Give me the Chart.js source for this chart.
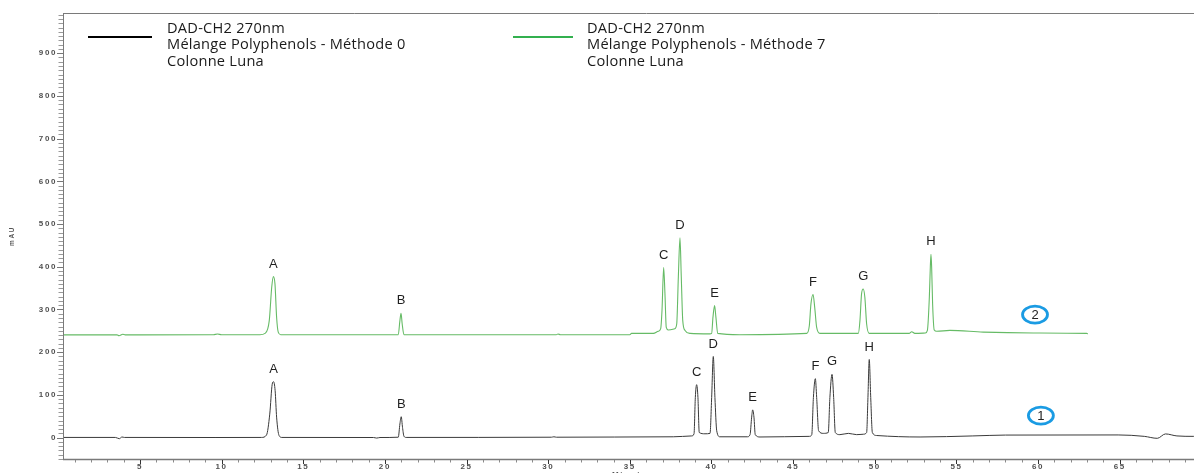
<!DOCTYPE html>
<html>
<head>
<meta charset="utf-8">
<title>DAD-CH2 270nm – Mélange Polyphenols</title>
<script src="https://cdn.jsdelivr.net/npm/chart.js@4/dist/chart.umd.min.js"></script>
<style>
  html, body { margin: 0; padding: 0; background: #fff; overflow: hidden; }
  #wrap { position: relative; width: 1194px; height: 473px; overflow: hidden; }
  #c { position: absolute; left: 0; top: 0; }
  .leg { position: absolute; font-family: "Open Sans", sans-serif; font-size: 14.6px;
         letter-spacing: 0.25px; line-height: 16.5px; color: #1a1a1a; white-space: nowrap; }
  .sw { position: absolute; height: 2px; }
</style>
</head>
<body>
<div id="wrap">
  <canvas id="c" width="1230" height="490"></canvas>
</div>
<script>
// ---- Chromatogram 1 : Méthode 0 (time in min, signal in mAU) ----
const times1 = [
  0.29, 3.5, 3.74, 3.9, 4.05, 9.6, 12.45,
  12.75, 12.95, 13.1, 13.18, 13.28, 13.37, 13.52, 13.7,
  19.3, 19.5, 19.7, 20.82,
  20.92, 21.0, 21.08, 21.17, 21.3,
  30.2, 30.35, 30.5, 37.66, 38.79,
  38.93, 39.01, 39.09, 39.17, 39.25, 39.6, 39.91,
  40.01, 40.11, 40.21, 40.32, 40.52,
  42.2, 42.36, 42.46, 42.52, 42.6, 42.68, 42.97,
  46.0, 46.14, 46.24, 46.36, 46.44, 46.56, 46.85, 47.15,
  47.25, 47.38, 47.48, 47.58, 47.86, 48.38, 48.89, 49.3,
  49.5, 49.58, 49.66, 49.75, 49.85, 50.11, 52.77,
  56.0, 58.0, 64.9, 66.5, 67.3, 67.8, 68.5, 69.5, 71.75
];
const signal1 = [
  0.5, 0.5, -2.5, 1.5, 0.5, 0.3, 0.5,
  6, 55, 125, 131, 110, 48, 5, 0.5,
  0.3, -1, 0.3, 1,
  32, 49, 24, 3, 0.5,
  1, 2, 1, 2, 4,
  9, 94, 124, 94, 12, 9, 10,
  94, 190, 94, 16, 2,
  2, 7, 48, 65, 48, 7, 1.5,
  3, 7, 94, 138, 94, 16, 10, 12,
  94, 148, 94, 12, 7, 10, 7, 8,
  12, 94, 183, 94, 12, 5, 1.5,
  4, 6, 6.3, 3, -1.6, 8.7, 4, 3, 3
];

// ---- Chromatogram 2 : Méthode 7 ----
const times2 = [
  0.29, 3.6, 3.72, 3.95, 4.1, 9.5, 9.75, 10.0, 12.35,
  12.66, 12.92, 13.07, 13.17, 13.27, 13.37, 13.47, 13.62,
  20.82, 20.92, 20.99, 21.06, 21.17,
  30.5, 30.6, 30.75, 35.0, 35.1, 36.44, 36.74,
  36.89, 36.97, 37.07, 37.15, 37.23, 37.35, 37.75,
  37.87, 37.97, 38.07, 38.15, 38.24, 38.38, 38.69,
  39.9, 40.01, 40.09, 40.19, 40.27, 40.38, 41.74,
  45.83, 45.99, 46.09, 46.22, 46.32, 46.44, 46.64,
  48.99, 49.09, 49.19, 49.29, 49.39, 49.5, 49.66,
  52.1, 52.26, 52.45, 53.1,
  53.22, 53.34, 53.4, 53.44, 53.48, 53.54, 53.64, 53.79,
  54.6, 56.64, 59.7, 62.97, 63.05
];
const signal2 = [
  240.5, 240.5, 238.5, 242, 240.5, 241, 242.5, 241, 241,
  244, 274, 352, 377, 360, 282, 247, 241,
  241, 274, 291, 266, 241,
  241, 242.5, 241, 241, 244, 244, 249,
  255, 298, 398, 337, 258, 252, 255,
  266, 376, 468, 376, 274, 251, 244,
  243, 244, 282, 309, 282, 244, 241,
  244, 262, 313, 335, 305, 258, 244,
  244, 274, 337, 348, 329, 266, 244,
  244, 248, 244, 245,
  251, 329, 400, 429, 400, 313, 252, 249,
  251, 247, 245, 244, 243
];

// ---- Peak identification (retention times of the apexes) ----
const peakNames = ['A', 'B', 'C', 'D', 'E', 'F', 'G', 'H'];
const apexTimes1 = [13.18, 21.0, 39.09, 40.11, 42.52, 46.36, 47.38, 49.66];
const apexTimes2 = [13.17, 20.99, 37.07, 38.07, 40.19, 46.22, 49.29, 53.44];

// ---- Axis ticks ----
const xMajorTicks = [5, 10, 15, 20, 25, 30, 35, 40, 45, 50, 55, 60, 65, 70];
const yMajorTicks = [0, 100, 200, 300, 400, 500, 600, 700, 800, 900];
const xMinorTicks = Array.from({ length: 71 }, (_, i) => i + 1);        // every minute
const yMinorTicks = Array.from({ length: 105 }, (_, i) => -50 + i * 10); // every 10 mAU

// ---- Legend text ----
const legend0 = ['DAD-CH2 270nm', 'Mélange Polyphenols - Méthode 0', 'Colonne Luna'];
const legend7 = ['DAD-CH2 270nm', 'Mélange Polyphenols - Méthode 7', 'Colonne Luna'];

const toPoints = (t, s) => t.map((x, i) => ({ x: x, y: s[i] }));

const TICK_FONT = { family: 'Liberation Sans, Arial, sans-serif', size: 8, weight: 'bold' };
const AXIS_GRAY = '#7a7a7a';

// Spaced-out digits for the axis labels
const letterSpacingPlugin = {
  id: 'tickSpacing',
  beforeDraw(chart) { chart.ctx.letterSpacing = '1.6px'; },
  beforeDatasetsDraw(chart) { chart.ctx.letterSpacing = '0px'; }
};

// Axis lines, frame top edge and minor/major tick marks
const axisPlugin = {
  id: 'axisMarks',
  afterDraw(chart) {
    const { ctx, chartArea: a, scales: { x, y } } = chart;
    ctx.save();
    ctx.lineWidth = 1;
    ctx.strokeStyle = AXIS_GRAY;
    ctx.beginPath();
    ctx.moveTo(a.left + 0.5, a.top); ctx.lineTo(a.left + 0.5, a.bottom + 0.5);
    ctx.moveTo(a.left, a.top + 0.5); ctx.lineTo(a.right, a.top + 0.5);
    ctx.stroke();
    ctx.lineWidth = 1.5;
    ctx.beginPath();
    ctx.moveTo(a.left, a.bottom + 0.5); ctx.lineTo(a.right, a.bottom + 0.5);
    ctx.stroke();
    ctx.lineWidth = 1;
    x.ticks.forEach(t => {
      const px = Math.round(x.getPixelForValue(t.value)) + 0.5;
      const major = xMajorTicks.includes(t.value);
      ctx.strokeStyle = major ? '#333' : '#8a8a8a';
      ctx.beginPath();
      ctx.moveTo(px, a.bottom + 1); ctx.lineTo(px, a.bottom + (major ? 5 : 3.5));
      ctx.stroke();
    });
    y.ticks.forEach(t => {
      const py = Math.round(y.getPixelForValue(t.value)) + 0.5;
      const major = yMajorTicks.includes(t.value);
      ctx.strokeStyle = major ? '#777' : '#9a9a9a';
      ctx.beginPath();
      ctx.moveTo(a.left - (major ? 6 : 4.5), py); ctx.lineTo(a.left, py);
      ctx.stroke();
    });
    // x-axis title, mostly below the visible edge
    ctx.letterSpacing = '1.6px';
    ctx.fillStyle = '#555';
    ctx.font = 'bold 8px Liberation Sans, Arial, sans-serif';
    ctx.textAlign = 'left';
    ctx.textBaseline = 'top';
    ctx.fillText('Minutes', x.getPixelForValue(33.9), 470.5);
    ctx.letterSpacing = '0px';
    ctx.restore();
  }
};

// Peak letters above each apex and the circled trace numbers
const annotatePlugin = {
  id: 'peakLetters',
  afterDatasetsDraw(chart) {
    const { ctx, scales: { x, y } } = chart;
    ctx.save();
    ctx.letterSpacing = '0px';
    ctx.fillStyle = '#1f1f1f';
    ctx.font = '13px Liberation Sans, Arial, sans-serif';
    ctx.textAlign = 'center';
    ctx.textBaseline = 'middle';
    const put = (times, sig, apexes) => {
      apexes.forEach((t, i) => {
        const v = sig[times.indexOf(t)];
        ctx.fillText(peakNames[i], x.getPixelForValue(t), y.getPixelForValue(v) - 12.5);
      });
    };
    put(times1, signal1, apexTimes1);
    put(times2, signal2, apexTimes2);

    const tags = [
      { text: '2', t: 59.81, v: 288 },
      { text: '1', t: 60.17, v: 51.6 }
    ];
    tags.forEach(g => {
      const cx = x.getPixelForValue(g.t), cy = y.getPixelForValue(g.v);
      ctx.beginPath();
      ctx.ellipse(cx, cy, 12.5, 8.5, 0, 0, Math.PI * 2);
      ctx.lineWidth = 2.8;
      ctx.strokeStyle = '#1a9be3';
      ctx.stroke();
      ctx.fillStyle = '#222';
      ctx.font = '13px Liberation Sans, Arial, sans-serif';
      ctx.fillText(g.text, cx, cy + 0.5);
    });
    ctx.restore();
  }
};

new Chart(document.getElementById('c'), {
  type: 'line',
  data: {
    datasets: [
      {
        label: legend0.join(' / '),
        data: toPoints(times1, signal1),
        borderColor: '#3a3a3a',
        borderWidth: 1,
        pointRadius: 0,
        cubicInterpolationMode: 'monotone',
        fill: false
      },
      {
        label: legend7.join(' / '),
        data: toPoints(times2, signal2),
        borderColor: '#66bb66',
        borderWidth: 1.1,
        pointRadius: 0,
        cubicInterpolationMode: 'monotone',
        fill: false
      }
    ]
  },
  options: {
    responsive: false,
    animation: false,
    devicePixelRatio: 1,
    layout: { padding: { top: 13, left: 0, right: 0, bottom: 0 } },
    plugins: { legend: { display: false }, tooltip: { enabled: false } },
    scales: {
      x: {
        type: 'linear',
        min: 0.29,
        max: 71.75,
        grid: { display: false, drawTicks: false },
        border: { display: false },
        afterBuildTicks: s => { s.ticks = xMinorTicks.map(v => ({ value: v })); },
        afterFit: s => { s.height = 31; },
        ticks: {
          autoSkip: false, maxRotation: 0, minRotation: 0, padding: 3,
          color: '#505050', font: TICK_FONT,
          callback: v => (xMajorTicks.includes(v) ? String(v) : '')
        }
      },
      y: {
        type: 'linear',
        min: -50,
        max: 994,
        grid: { display: false, drawTicks: false },
        border: { display: false },
        afterBuildTicks: s => { s.ticks = yMinorTicks.map(v => ({ value: v })); },
        afterFit: s => { s.width = 63; },
        title: {
          display: true, text: 'mAU', color: '#555',
          font: { family: 'Liberation Sans, Arial, sans-serif', size: 6.5, weight: 'bold' },
          padding: { top: 8, bottom: 0 }
        },
        ticks: {
          autoSkip: false, padding: 6,
          color: '#505050', font: TICK_FONT,
          callback: v => (yMajorTicks.includes(v) ? String(v) : '')
        }
      }
    }
  },
  plugins: [letterSpacingPlugin, axisPlugin, annotatePlugin]
});

// Legend block: line swatch + three text lines per run
const wrap = document.getElementById('wrap');
[[legend0, '#000', 88, 167], [legend7, '#33b04f', 513, 587]].forEach(([lines, col, swX, txX]) => {
  const sw = document.createElement('div');
  sw.className = 'sw';
  sw.style.cssText = `left:${swX}px;top:36px;width:${col === '#000' ? 64 : 60}px;background:${col}`;
  wrap.appendChild(sw);
  const tx = document.createElement('div');
  tx.className = 'leg';
  tx.style.left = txX + 'px';
  tx.style.top = '18.5px';
  tx.innerHTML = lines.join('<br>');
  wrap.appendChild(tx);
});
</script>
</body>
</html>
